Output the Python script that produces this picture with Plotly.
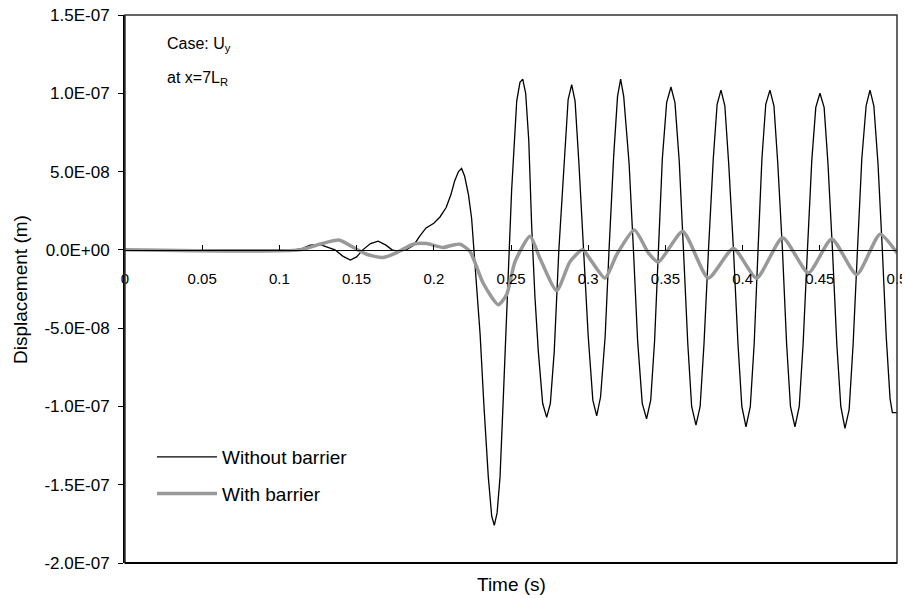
import plotly.graph_objects as go

# ---- data (time in s, displacement in units of 1e-8 m) ----
t_without = [0, 0.11, 0.115, 0.12, 0.126, 0.131, 0.136, 0.141, 0.146, 0.150, 0.154, 0.159, 0.164, 0.169,
             0.173, 0.177, 0.182, 0.187, 0.191, 0.195, 0.2, 0.204, 0.208, 0.211, 0.2135, 0.216, 0.218,
             0.220, 0.2225, 0.2245, 0.226, 0.228, 0.230, 0.2325, 0.2353, 0.2375, 0.2392, 0.241, 0.2429,
             0.245, 0.2472, 0.2504, 0.2537, 0.2558, 0.2576, 0.2595, 0.2615, 0.2634, 0.2655, 0.2677,
             0.2705, 0.2731, 0.2755, 0.278, 0.281, 0.2845, 0.287, 0.2893, 0.2915, 0.294, 0.2969, 0.300,
             0.303, 0.3055, 0.308, 0.311, 0.3135, 0.3165, 0.319, 0.321, 0.323, 0.3265, 0.3293, 0.332,
             0.335, 0.3378, 0.3405, 0.343, 0.3455, 0.348, 0.3508, 0.3536, 0.3562, 0.359, 0.3617, 0.3645,
             0.367, 0.3698, 0.3725, 0.375, 0.3779, 0.381, 0.3835, 0.386, 0.3885, 0.391, 0.3941, 0.397,
             0.3995, 0.4022, 0.405, 0.4075, 0.41, 0.4125, 0.415, 0.4177, 0.4203, 0.4228, 0.4258, 0.4285,
             0.431, 0.4339, 0.4367, 0.4392, 0.442, 0.4448, 0.4474, 0.4501, 0.4528, 0.4553, 0.4582, 0.461,
             0.4636, 0.4663, 0.469, 0.4716, 0.4744, 0.4772, 0.480, 0.4825, 0.485, 0.4877, 0.4905, 0.493,
             0.4955, 0.497, 0.5]
u_without = [0, 0, 0.1, 0.3, 0.35, 0.2, 0, -0.4, -0.65, -0.45, 0, 0.4, 0.55, 0.3,
             0, -0.1, 0, 0.3, 0.9, 1.4, 1.7, 2.1, 2.7, 3.5, 4.4, 5.0, 5.2,
             4.7, 3.5, 2.0, 0, -2.5, -5.4, -10, -14.5, -17, -17.6, -16.8, -14.5,
             -9.5, -4.2, 3.8, 9.5, 10.7, 10.9, 10.0, 7.0, 1.5, -3, -6.5,
             -9.8, -10.7, -9.8, -6.5, 0, 5.8, 9.6, 10.55, 9.5, 5.5, 0, -5.5,
             -9.6, -10.6, -9.4, -5.5, 0, 6, 9.8, 10.9, 9.8, 5.5, 0, -5.8,
             -9.8, -10.8, -9.6, -5.8, 0, 5.8, 9.4, 10.4, 9.4, 5.6, 0, -6,
             -10, -11.2, -10, -6, 0, 5.8, 9.3, 10.2, 9.2, 5.5, 0, -6,
             -10, -11.3, -10, -6, 0, 5.8, 9.3, 10.2, 9.2, 5.5, 0, -6,
             -10, -11.3, -10, -6, 0, 5.7, 9.1, 10.0, 9.1, 5.5, 0, -6,
             -10, -11.4, -10.2, -6, 0, 5.8, 9.2, 10.2, 9.2, 5.5, 0, -5.5,
             -9.5, -10.4, -10.4]

t_with = [0, 0.113, 0.126, 0.139, 0.148, 0.1565, 0.167, 0.176, 0.1867, 0.1954, 0.206, 0.212, 0.217,
          0.2234, 0.2321, 0.2418, 0.2472, 0.2526, 0.2623, 0.2688, 0.2796, 0.2882, 0.2964, 0.3020,
          0.3109, 0.3185, 0.3299, 0.3390, 0.3454, 0.3612, 0.3778, 0.394, 0.4091, 0.4259, 0.4426,
          0.4577, 0.4739, 0.489, 0.5]
u_with = [0, 0, 0.36, 0.62, 0.15, -0.28, -0.49, -0.17, 0.36, 0.4, 0.15, 0.3, 0.36,
          -0.1, -2.15, -3.5, -2.85, -0.76, 0.87, -0.55, -2.6, -0.76, 0.0, -0.7,
          -1.8, -0.3, 1.27, -0.2, -0.78, 1.17, -1.8, 0.09, -1.8, 0.77, -1.47,
          0.7, -1.58, 1.0, -0.2]

scale = 1e-8
y_tickvals = [-2e-7, -1.5e-7, -1e-7, -5e-8, 0, 5e-8, 1e-7, 1.5e-7]
y_ticktext = ["-2.0E-07", "-1.5E-07", "-1.0E-07", "-5.0E-08", "0.0E+00", "5.0E-08", "1.0E-07", "1.5E-07"]
x_tickvals = [0, 0.05, 0.1, 0.15, 0.2, 0.25, 0.3, 0.35, 0.4, 0.45, 0.5]
x_ticktext = ["0", "0.05", "0.1", "0.15", "0.2", "0.25", "0.3", "0.35", "0.4", "0.45", "0.5"]

ymin, ymax = -2e-7, 1.5e-7
FONT = "Liberation Sans, Arial, Helvetica, sans-serif"

fig = go.Figure()
fig.add_trace(go.Scatter(x=t_without, y=[v * scale for v in u_without], mode="lines",
                         name="Without barrier", legendgroup="a",
                         line=dict(color="black", width=1.3)))
fig.add_trace(go.Scatter(x=t_with, y=[v * scale for v in u_with], mode="lines",
                         name="With barrier", legendgroup="b",
                         line=dict(color="#999999", width=3.5, shape="spline", smoothing=0.6)))

# page is placed with an 8px body margin
OFF = 8
W, H = 910 - OFF, 598 - OFF
L, R, T, B = 125, 897, 15, 563          # plot-area edges in page pixels
ml, mt = L - OFF, T - OFF
mr, mb = W - (R - OFF), H - (B - OFF)
pw, ph = R - L, B - T


def px(x):
    return (x - L) / pw


def py(y):
    return (B - y) / ph


fig.update_layout(
    width=W, height=H,
    margin=dict(l=ml, r=mr, t=mt, b=mb, autoexpand=False),
    paper_bgcolor="white", plot_bgcolor="white",
    font=dict(family=FONT, size=15, color="black"),
    showlegend=True,
    legend=dict(x=px(152), y=py(438), xanchor="left", yanchor="top",
                bgcolor="rgba(0,0,0,0)", font=dict(size=19), itemwidth=60,
                tracegroupgap=9, traceorder="grouped"),
    xaxis=dict(range=[0, 0.5], anchor="free", position=(0 - ymin) / (ymax - ymin),
               tickvals=x_tickvals, ticktext=x_ticktext, ticks="inside", ticklen=5,
               tickcolor="black", showline=True, linecolor="black", linewidth=1,
               showgrid=False, zeroline=False, ticklabelstandoff=15, automargin=False,
               ticklabeloverflow="allow", tickfont=dict(size=15)),
    yaxis=dict(range=[ymin, ymax], tickvals=y_tickvals, ticktext=y_ticktext,
               ticks="outside", ticklen=5, tickcolor="black", showline=True,
               linecolor="black", linewidth=2, showgrid=False, zeroline=False,
               automargin=False, ticklabeloverflow="allow", ticklabelstandoff=5,
               tickfont=dict(size=17)),
    shapes=[
        dict(type="rect", xref="paper", yref="paper", x0=0, x1=1, y0=0, y1=1,
             line=dict(color="#333333", width=1.5), layer="above"),
        dict(type="line", xref="paper", yref="paper", x0=0, x1=1, y0=0, y1=0,
             line=dict(color="black", width=2), layer="above"),
    ],
    annotations=[
        dict(text="Displacement (m)", xref="paper", yref="paper", x=px(20), y=0.5,
             textangle=-90, showarrow=False, xanchor="center", yanchor="middle",
             font=dict(size=19)),
        dict(text="Time (s)", xref="paper", yref="paper", x=0.5, y=py(584),
             showarrow=False, xanchor="center", yanchor="middle", font=dict(size=19)),
        dict(text="Case: U<sub>y</sub>", xref="paper", yref="paper", x=px(165),
             y=py(45), showarrow=False, xanchor="left", yanchor="middle",
             font=dict(size=16)),
        dict(text="at x=7L<sub>R</sub>", xref="paper", yref="paper", x=px(165),
             y=py(78), showarrow=False, xanchor="left", yanchor="middle",
             font=dict(size=16)),
    ],
)

fig.write_html("out.html")
